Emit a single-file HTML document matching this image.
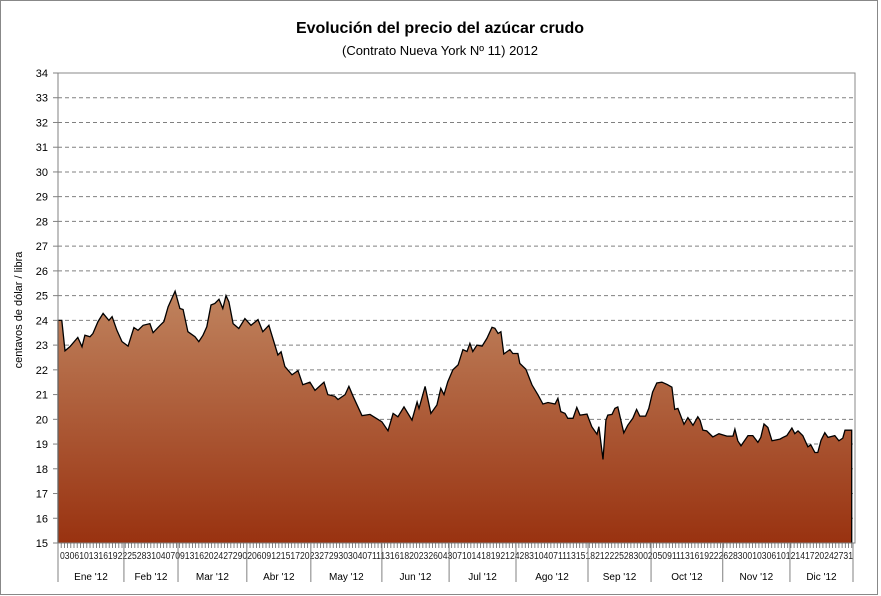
<!DOCTYPE html>
<html><head><meta charset="utf-8"><style>
html,body{margin:0;padding:0;background:#fff}
svg{display:block;font-family:"Liberation Sans",sans-serif}
</style></head><body>
<svg width="881" height="596" viewBox="0 0 881 596">
<defs>
<linearGradient id="fillg" gradientUnits="userSpaceOnUse" x1="0" y1="290" x2="0" y2="543">
<stop offset="0" stop-color="#c0845f"/><stop offset="1" stop-color="#993210"/>
</linearGradient>
</defs>
<rect x="0.5" y="0.5" width="877" height="594" fill="#fff" stroke="#888"/>
<text x="440" y="33" text-anchor="middle" font-size="16" font-weight="bold" fill="#000">Evolución del precio del azúcar crudo</text>
<text x="440" y="55" text-anchor="middle" font-size="13" fill="#000">(Contrato Nueva York Nº 11)   2012</text>
<text transform="translate(22,310) rotate(-90)" text-anchor="middle" font-size="11" fill="#000">centavos  de dólar / libra</text>
<g id="grid"></g>
<g id="area"></g>
<g id="axes"></g>
</svg>
<script>
const dias=[0,1.2,2.2,3.7,6.2,7.5,8.4,10,10.9,12.5,14.1,15.9,16.9,18.4,20,21.9,23.7,25,26.6,28.7,29.7,31.9,33.1,34.4,36.6,38.1,39.1,40.6,42.8,44,45.3,46.5,47.8,49,50.3,51.5,52.5,53.4,54.7,56.5,58.4,60.3,62.5,64,65.9,66.5,68.7,69.7,70.9,73.1,75,76.5,78.7,80.3,83.1,84.3,86.5,87.5,89.7,90.9,92.2,95,97.5,101.2,103.1,104.7,106.2,108.1,110.6,112.2,112.8,114.7,116.5,118.4,119.6,120.6,121.8,123.4,125,126.5,127.8,128.7,129.6,130.9,132.5,134,135.6,136.5,137.5,138.4,139.3,141.2,142.1,143.7,144.3,146.2,148.1,150,151.5,153.1,155.3,156.2,157.1,158.4,159.3,160.9,162.1,163.1,165.3,166.8,168.4,169,170.3,171.2,171.8,173.1,174,174.9,176.8,178,179.6,180.8,181.8,183.6,184.6,185.8,187.1,188.7,190.3,191.8,192.7,193.7,195.6,196.8,198.4,199.9,200.6,201.5,202.7,204.6,206.5,209,210.9,211.5,212.4,213.4,215.6,217.1,218.7,219.6,220.6,221.8,223.1,225.6,226.5,227.7,229.3,230.2,231.2,232.7,234.3,235.2,236.5,237.4,238.4,239.6,240.6,242.7,244,245.2,245.9,246.8,248];
const precios=[24.0,24.0,22.77,22.93,23.31,22.93,23.4,23.34,23.47,23.95,24.28,24.0,24.15,23.6,23.14,22.96,23.71,23.6,23.8,23.87,23.5,23.8,23.95,24.55,25.18,24.48,24.44,23.54,23.34,23.14,23.4,23.74,24.62,24.68,24.85,24.48,25.0,24.75,23.87,23.67,24.07,23.8,24.03,23.54,23.8,23.54,22.6,22.73,22.13,21.8,21.97,21.4,21.5,21.17,21.5,21.0,20.93,20.8,21.0,21.33,20.93,20.15,20.2,19.9,19.54,20.24,20.1,20.5,19.97,20.7,20.44,21.33,20.24,20.58,21.25,21.0,21.52,22.0,22.2,22.82,22.74,23.07,22.74,23.0,22.96,23.27,23.72,23.68,23.47,23.54,22.64,22.82,22.66,22.66,22.26,22.02,21.39,20.98,20.62,20.68,20.62,20.85,20.31,20.24,20.04,20.04,20.48,20.17,20.21,19.7,19.4,19.7,18.38,19.97,20.17,20.2,20.44,20.5,19.45,19.76,20.04,20.4,20.13,20.13,20.44,21.1,21.47,21.5,21.41,21.3,20.4,20.44,19.8,20.07,19.76,20.1,19.97,19.56,19.53,19.29,19.42,19.32,19.32,19.6,19.13,18.93,19.34,19.34,19.07,19.27,19.81,19.67,19.13,19.2,19.27,19.34,19.65,19.42,19.53,19.34,18.89,18.97,18.66,18.66,19.15,19.46,19.27,19.34,19.13,19.24,19.56,19.56,19.56];
const yTicks=[15,16,17,18,19,20,21,22,23,24,25,26,27,28,29,30,31,32,33,34];
const meses=["Ene '12","Feb '12","Mar '12","Abr '12","May '12","Jun '12","Jul '12","Ago '12","Sep '12","Oct '12","Nov '12","Dic '12"];
const limitesMes=[0,20.6,37.5,59,79,101.2,122.2,143.1,165.6,185.3,207.7,228.7,248.4];

const X0=58,X1=853,Y0=543,Y1=73,DMAX=248.4,VMIN=15,VMAX=34;
const NS="http://www.w3.org/2000/svg";
function xs(d){return X0+(d/DMAX)*(X1-X0);}
function ys(v){return Y0-(v-VMIN)/(VMAX-VMIN)*(Y0-Y1);}
function mk(tag,attrs,parent){const e=document.createElementNS(NS,tag);for(const k in attrs)e.setAttribute(k,attrs[k]);parent.appendChild(e);return e;}
const grid=document.getElementById('grid'),area=document.getElementById('area'),axes=document.getElementById('axes');

mk('rect',{x:X0,y:Y1,width:X1-X0+2,height:Y0-Y1,fill:'#fff',stroke:'#888'},grid);
yTicks.forEach(v=>{
  const y=ys(v);
  if(v>VMIN&&v<VMAX){const l=mk('line',{x1:X0,x2:X1+2,y1:y,y2:y,stroke:'#808080','stroke-dasharray':'4,3'},grid);
  
  }
  mk('line',{x1:X0-5,x2:X0,y1:y,y2:y,stroke:'#808080'},axes);
  const t=mk('text',{x:X0-10,y:y+4,'text-anchor':'end','font-size':'11',fill:'#000'},axes);
  t.textContent=v;
  
  
});

let d='M'+xs(dias[0])+','+ys(VMIN);
dias.forEach((dd,i)=>{d+=' L'+xs(dd).toFixed(1)+','+ys(precios[i]).toFixed(1);});
d+=' L'+xs(dias[dias.length-1])+','+ys(VMIN)+' Z';
const ar=mk('path',{d:d,fill:'url(#fillg)',stroke:'none'},area);


let ld='';
dias.forEach((dd,i)=>{ld+=(i?' L':'M')+xs(dd).toFixed(1)+','+ys(precios[i]).toFixed(1);});
ld+=' L'+xs(dias[dias.length-1])+','+ys(VMIN);
const ln=mk('path',{d:'M'+xs(0)+','+ys(VMIN)+' '+ld.replace('M','L'),fill:'none',stroke:'#000','stroke-width':'1.3'},area);



mk('line',{x1:X0,x2:X0,y1:Y1,y2:Y0,stroke:'#808080'},axes);
mk('line',{x1:X0,x2:X1+2,y1:Y0,y2:Y0,stroke:'#808080'},axes);
for(let i=0;i<=248;i++){const x=xs(i);mk('line',{x1:x,x2:x,y1:Y0,y2:Y0+5,stroke:'#666','stroke-width':'0.8'},axes);}
const band=mk('text',{x:X0+2,y:Y0+16,'font-size':'10',fill:'#222',textLength:X1-X0-2,lengthAdjust:'spacingAndGlyphs'},axes);
band.textContent='0306101316192225283104070913162024272902060912151720232729303040711131618202326043071014181921242831040711131518212225283002050911131619222628300103061012141720242731';


limitesMes.forEach(b=>{const x=xs(b);mk('line',{x1:x,x2:x,y1:Y0,y2:Y0+39,stroke:'#808080'},axes);});
meses.forEach((m,i)=>{
  const t=mk('text',{x:(xs(limitesMes[i])+xs(limitesMes[i+1]))/2,y:580,'text-anchor':'middle','font-size':'10',fill:'#000'},axes);
  t.textContent=m;
  
  
});
</script>
</body></html>
